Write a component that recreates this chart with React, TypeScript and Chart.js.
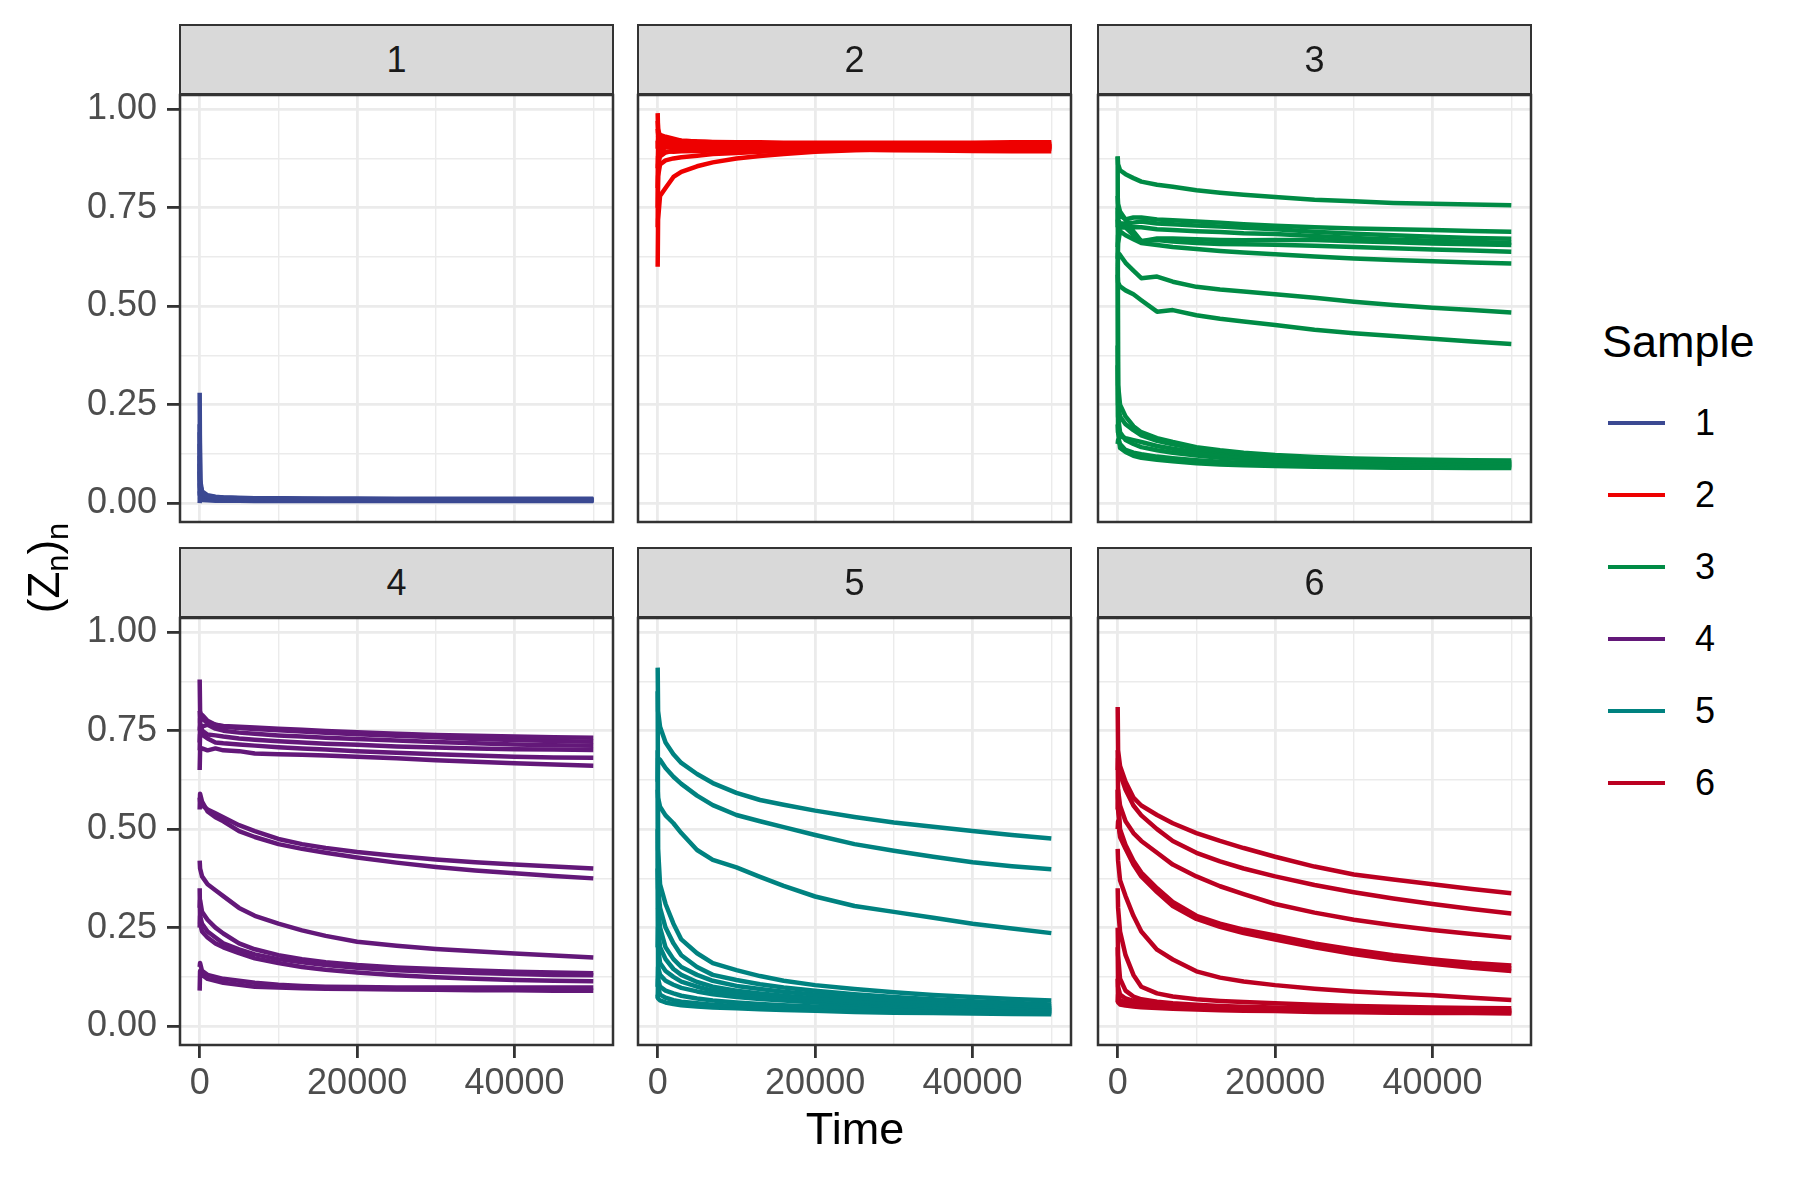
import React, { useEffect, useRef } from 'react';
import { Chart, registerables } from 'chart.js';
Chart.register(...registerables);

const FONT = "'Liberation Sans', Arial, Helvetica, sans-serif";

const TIMES = [0, 50, 300, 1000, 2000, 3000, 5000, 7000, 10000, 13000, 16000, 20000, 25000, 30000, 35000, 40000, 45000, 50000];
const SAMPLES = ['1', '2', '3', '4', '5', '6'];
const COLORS = ['#3B4992', '#EE0000', '#008B45', '#631879', '#008280', '#BB0021'];

const X_TICKS = [0, 10000, 20000, 30000, 40000, 50000];
const X_MAJOR = [0, 20000, 40000];
const X_LABELS = ['0', '20000', '40000'];
const Y_TICKS = [0, 0.125, 0.25, 0.375, 0.5, 0.625, 0.75, 0.875, 1];
const Y_MAJOR = [0, 0.25, 0.5, 0.75, 1];
const Y_LABELS = ['0.00', '0.25', '0.50', '0.75', '1.00'];

const sample1 = [
  [0.28, 0.05, 0.025, 0.018, 0.015, 0.014, 0.013, 0.012, 0.011, 0.011, 0.010, 0.010, 0.010, 0.009, 0.009, 0.009, 0.009, 0.009],
  [0.00, 0.03, 0.020, 0.015, 0.013, 0.012, 0.011, 0.011, 0.010, 0.010, 0.009, 0.009, 0.009, 0.008, 0.008, 0.008, 0.008, 0.008],
  [0.15, 0.04, 0.020, 0.014, 0.012, 0.011, 0.010, 0.010, 0.009, 0.009, 0.009, 0.008, 0.008, 0.008, 0.008, 0.008, 0.007, 0.007],
  [0.10, 0.02, 0.012, 0.010, 0.009, 0.008, 0.008, 0.007, 0.007, 0.007, 0.007, 0.006, 0.006, 0.006, 0.006, 0.006, 0.006, 0.006],
  [0.20, 0.06, 0.030, 0.020, 0.016, 0.014, 0.013, 0.012, 0.012, 0.011, 0.011, 0.011, 0.010, 0.010, 0.010, 0.010, 0.010, 0.010],
  [0.05, 0.01, 0.008, 0.007, 0.006, 0.006, 0.006, 0.005, 0.005, 0.005, 0.005, 0.005, 0.005, 0.005, 0.005, 0.005, 0.005, 0.005],
  [0.08, 0.03, 0.018, 0.013, 0.012, 0.011, 0.011, 0.010, 0.010, 0.010, 0.010, 0.010, 0.009, 0.009, 0.009, 0.009, 0.009, 0.009],
  [0.12, 0.02, 0.015, 0.012, 0.011, 0.010, 0.009, 0.009, 0.008, 0.008, 0.008, 0.008, 0.007, 0.007, 0.007, 0.007, 0.007, 0.007],
  [0.03, 0.02, 0.016, 0.014, 0.013, 0.013, 0.012, 0.012, 0.012, 0.011, 0.011, 0.011, 0.011, 0.011, 0.011, 0.011, 0.011, 0.011],
  [0.18, 0.05, 0.022, 0.016, 0.014, 0.012, 0.011, 0.010, 0.009, 0.009, 0.009, 0.009, 0.008, 0.008, 0.008, 0.008, 0.008, 0.008],
];

const sample2 = [
  [0.60, 0.72, 0.78, 0.80, 0.828, 0.841, 0.855, 0.865, 0.875, 0.881, 0.886, 0.892, 0.896, 0.899, 0.901, 0.902, 0.903, 0.904],
  [0.99, 0.94, 0.925, 0.92, 0.918, 0.915, 0.913, 0.911, 0.910, 0.909, 0.908, 0.907, 0.907, 0.906, 0.906, 0.905, 0.905, 0.905],
  [0.75, 0.83, 0.86, 0.87, 0.875, 0.878, 0.882, 0.886, 0.889, 0.892, 0.894, 0.896, 0.898, 0.899, 0.900, 0.900, 0.901, 0.901],
  [0.90, 0.93, 0.935, 0.93, 0.925, 0.92, 0.918, 0.916, 0.914, 0.913, 0.912, 0.911, 0.911, 0.910, 0.910, 0.910, 0.910, 0.910],
  [0.85, 0.90, 0.91, 0.912, 0.913, 0.912, 0.911, 0.910, 0.909, 0.908, 0.908, 0.907, 0.907, 0.907, 0.906, 0.906, 0.906, 0.906],
  [0.95, 0.93, 0.92, 0.91, 0.905, 0.902, 0.900, 0.899, 0.898, 0.898, 0.898, 0.898, 0.899, 0.899, 0.899, 0.899, 0.899, 0.899],
  [0.80, 0.86, 0.88, 0.89, 0.895, 0.898, 0.900, 0.902, 0.903, 0.904, 0.905, 0.906, 0.907, 0.908, 0.909, 0.910, 0.911, 0.912],
  [0.97, 0.95, 0.93, 0.925, 0.922, 0.92, 0.918, 0.917, 0.916, 0.916, 0.915, 0.915, 0.915, 0.915, 0.915, 0.915, 0.916, 0.916],
  [0.70, 0.88, 0.90, 0.905, 0.904, 0.903, 0.902, 0.901, 0.900, 0.900, 0.899, 0.898, 0.897, 0.896, 0.895, 0.894, 0.893, 0.893],
  [0.92, 0.90, 0.895, 0.893, 0.892, 0.893, 0.894, 0.895, 0.896, 0.897, 0.898, 0.899, 0.900, 0.901, 0.902, 0.903, 0.904, 0.905],
];

const sample3 = [
  [0.88, 0.86, 0.845, 0.835, 0.825, 0.816, 0.808, 0.803, 0.794, 0.788, 0.783, 0.777, 0.770, 0.766, 0.762, 0.760, 0.758, 0.756],
  [0.70, 0.74, 0.73, 0.72, 0.725, 0.725, 0.72, 0.718, 0.715, 0.712, 0.708, 0.704, 0.700, 0.697, 0.695, 0.693, 0.691, 0.689],
  [0.75, 0.72, 0.71, 0.71, 0.712, 0.715, 0.71, 0.708, 0.705, 0.702, 0.699, 0.695, 0.689, 0.684, 0.680, 0.676, 0.673, 0.671],
  [0.65, 0.68, 0.70, 0.70, 0.70, 0.70, 0.695, 0.693, 0.690, 0.688, 0.685, 0.683, 0.678, 0.673, 0.669, 0.666, 0.663, 0.661],
  [0.78, 0.76, 0.74, 0.72, 0.69, 0.665, 0.672, 0.672, 0.670, 0.668, 0.667, 0.668, 0.668, 0.665, 0.662, 0.659, 0.657, 0.655],
  [0.72, 0.71, 0.70, 0.70, 0.68, 0.665, 0.668, 0.664, 0.660, 0.658, 0.657, 0.656, 0.653, 0.650, 0.647, 0.644, 0.641, 0.638],
  [0.62, 0.66, 0.69, 0.68, 0.67, 0.66, 0.655, 0.650, 0.645, 0.640, 0.636, 0.632, 0.626, 0.621, 0.617, 0.614, 0.611, 0.608],
  [0.60, 0.635, 0.63, 0.61, 0.59, 0.571, 0.575, 0.562, 0.549, 0.542, 0.537, 0.530, 0.521, 0.511, 0.503, 0.496, 0.490, 0.484],
  [0.58, 0.56, 0.55, 0.54, 0.53, 0.515, 0.486, 0.49, 0.477, 0.468, 0.461, 0.452, 0.440, 0.431, 0.424, 0.417, 0.410, 0.404],
  [0.88, 0.30, 0.25, 0.22, 0.195, 0.18, 0.165, 0.155, 0.142, 0.134, 0.128, 0.122, 0.117, 0.113, 0.111, 0.110, 0.109, 0.108],
  [0.40, 0.25, 0.22, 0.20, 0.185, 0.172, 0.158, 0.149, 0.138, 0.130, 0.124, 0.118, 0.113, 0.110, 0.108, 0.106, 0.105, 0.104],
  [0.20, 0.18, 0.17, 0.165, 0.16, 0.155, 0.145, 0.138, 0.129, 0.122, 0.117, 0.112, 0.108, 0.105, 0.103, 0.102, 0.101, 0.100],
  [0.60, 0.22, 0.18, 0.16, 0.15, 0.142, 0.134, 0.128, 0.121, 0.115, 0.111, 0.107, 0.104, 0.101, 0.099, 0.098, 0.097, 0.097],
  [0.15, 0.16, 0.15, 0.135, 0.128, 0.124, 0.118, 0.114, 0.109, 0.105, 0.102, 0.099, 0.097, 0.095, 0.094, 0.093, 0.093, 0.093],
  [0.35, 0.18, 0.14, 0.13, 0.12, 0.115, 0.11, 0.106, 0.101, 0.098, 0.096, 0.094, 0.092, 0.091, 0.090, 0.090, 0.089, 0.089],
];

const sample4 = [
  [0.88, 0.80, 0.78, 0.77, 0.765, 0.762, 0.76, 0.758, 0.755, 0.752, 0.749, 0.746, 0.742, 0.739, 0.737, 0.735, 0.733, 0.732],
  [0.75, 0.78, 0.79, 0.775, 0.765, 0.76, 0.757, 0.754, 0.751, 0.748, 0.745, 0.741, 0.737, 0.733, 0.729, 0.726, 0.724, 0.722],
  [0.70, 0.74, 0.76, 0.765, 0.755, 0.75, 0.745, 0.742, 0.738, 0.735, 0.732, 0.729, 0.725, 0.721, 0.718, 0.715, 0.713, 0.712],
  [0.80, 0.77, 0.75, 0.74, 0.738, 0.735, 0.73, 0.727, 0.723, 0.72, 0.717, 0.714, 0.71, 0.707, 0.705, 0.703, 0.702, 0.701],
  [0.72, 0.76, 0.74, 0.73, 0.72, 0.718, 0.715, 0.712, 0.708, 0.705, 0.702, 0.698, 0.694, 0.69, 0.687, 0.684, 0.682, 0.681],
  [0.65, 0.70, 0.705, 0.70, 0.705, 0.70, 0.698, 0.692, 0.69, 0.689, 0.687, 0.684, 0.68, 0.675, 0.671, 0.667, 0.664, 0.661],
  [0.58, 0.57, 0.56, 0.55, 0.54, 0.53, 0.51, 0.495, 0.475, 0.462, 0.452, 0.442, 0.432, 0.423, 0.416, 0.41, 0.405, 0.40],
  [0.55, 0.59, 0.57, 0.545, 0.53, 0.52, 0.495, 0.48, 0.462, 0.45, 0.44, 0.428, 0.415, 0.404, 0.395, 0.388, 0.381, 0.375],
  [0.42, 0.40, 0.38, 0.36, 0.345, 0.33, 0.30, 0.28, 0.26, 0.243, 0.229, 0.214, 0.204, 0.196, 0.19, 0.184, 0.179, 0.174],
  [0.30, 0.32, 0.29, 0.27, 0.25, 0.235, 0.21, 0.195, 0.18, 0.17, 0.162, 0.155, 0.149, 0.145, 0.141, 0.138, 0.136, 0.134],
  [0.25, 0.28, 0.26, 0.24, 0.225, 0.21, 0.195, 0.182, 0.17, 0.162, 0.155, 0.148, 0.142, 0.138, 0.135, 0.132, 0.130, 0.129],
  [0.35, 0.26, 0.24, 0.225, 0.21, 0.20, 0.185, 0.172, 0.16, 0.15, 0.143, 0.136, 0.129, 0.124, 0.12, 0.117, 0.115, 0.114],
  [0.15, 0.16, 0.14, 0.13, 0.125, 0.12, 0.115, 0.11, 0.105, 0.102, 0.10, 0.099, 0.098, 0.098, 0.098, 0.098, 0.098, 0.098],
  [0.09, 0.14, 0.13, 0.12, 0.115, 0.11, 0.105, 0.10, 0.098, 0.096, 0.095, 0.094, 0.093, 0.092, 0.091, 0.091, 0.09, 0.09],
];

const sample5 = [
  [0.91, 0.80, 0.76, 0.72, 0.69, 0.668, 0.64, 0.617, 0.592, 0.574, 0.562, 0.547, 0.531, 0.517, 0.506, 0.495, 0.485, 0.476],
  [0.62, 0.68, 0.676, 0.655, 0.633, 0.615, 0.585, 0.561, 0.536, 0.52, 0.505, 0.485, 0.462, 0.445, 0.43, 0.416, 0.406, 0.398],
  [0.60, 0.58, 0.557, 0.535, 0.515, 0.49, 0.447, 0.422, 0.403, 0.379, 0.356, 0.329, 0.305, 0.29, 0.275, 0.26, 0.248, 0.236],
  [0.85, 0.45, 0.36, 0.31, 0.26, 0.22, 0.185, 0.16, 0.142, 0.127, 0.115, 0.104, 0.094, 0.086, 0.079, 0.074, 0.069, 0.065],
  [0.40, 0.35, 0.30, 0.25, 0.21, 0.18, 0.15, 0.13, 0.117, 0.106, 0.098, 0.09, 0.081, 0.074, 0.068, 0.063, 0.059, 0.055],
  [0.30, 0.30, 0.25, 0.20, 0.17, 0.15, 0.13, 0.115, 0.102, 0.094, 0.087, 0.08, 0.072, 0.066, 0.061, 0.057, 0.053, 0.05],
  [0.20, 0.25, 0.20, 0.17, 0.145, 0.13, 0.112, 0.10, 0.09, 0.083, 0.077, 0.071, 0.064, 0.059, 0.055, 0.051, 0.048, 0.045],
  [0.50, 0.20, 0.16, 0.14, 0.125, 0.113, 0.10, 0.09, 0.082, 0.076, 0.071, 0.066, 0.06, 0.055, 0.051, 0.048, 0.045, 0.042],
  [0.10, 0.15, 0.13, 0.115, 0.105, 0.097, 0.088, 0.081, 0.074, 0.069, 0.065, 0.06, 0.055, 0.051, 0.048, 0.045, 0.042, 0.04],
  [0.07, 0.12, 0.10, 0.09, 0.083, 0.077, 0.07, 0.065, 0.06, 0.056, 0.053, 0.05, 0.047, 0.044, 0.042, 0.04, 0.038, 0.037],
  [0.70, 0.10, 0.08, 0.072, 0.066, 0.062, 0.058, 0.054, 0.051, 0.048, 0.046, 0.044, 0.041, 0.039, 0.037, 0.036, 0.035, 0.034],
  [0.08, 0.07, 0.065, 0.06, 0.056, 0.053, 0.05, 0.047, 0.045, 0.043, 0.041, 0.039, 0.036, 0.034, 0.033, 0.032, 0.031, 0.03],
];

const sample6 = [
  [0.81, 0.70, 0.66, 0.62, 0.58, 0.56, 0.536, 0.515, 0.49, 0.47, 0.452, 0.43, 0.405, 0.385, 0.372, 0.36, 0.348, 0.337],
  [0.65, 0.68, 0.64, 0.60, 0.56, 0.535, 0.50, 0.47, 0.44, 0.418, 0.40, 0.38, 0.358, 0.34, 0.324, 0.31, 0.297, 0.286],
  [0.55, 0.60, 0.56, 0.52, 0.49, 0.47, 0.44, 0.41, 0.38, 0.355, 0.335, 0.31, 0.288, 0.27, 0.256, 0.244, 0.234, 0.224],
  [0.70, 0.58, 0.50, 0.46, 0.42, 0.39, 0.35, 0.315, 0.28, 0.26, 0.245, 0.23, 0.21, 0.194, 0.18, 0.169, 0.16, 0.154],
  [0.60, 0.55, 0.49, 0.455, 0.415, 0.385, 0.345, 0.31, 0.276, 0.256, 0.24, 0.225, 0.205, 0.188, 0.174, 0.163, 0.154, 0.146],
  [0.50, 0.52, 0.48, 0.45, 0.41, 0.38, 0.34, 0.305, 0.272, 0.252, 0.236, 0.22, 0.20, 0.183, 0.169, 0.158, 0.148, 0.14],
  [0.45, 0.42, 0.37, 0.33, 0.28, 0.24, 0.194, 0.169, 0.139, 0.123, 0.113, 0.104, 0.095, 0.088, 0.083, 0.078, 0.072, 0.066],
  [0.35, 0.30, 0.24, 0.18, 0.13, 0.10, 0.083, 0.075, 0.068, 0.064, 0.061, 0.058, 0.054, 0.051, 0.049, 0.047, 0.046, 0.045],
  [0.25, 0.18, 0.12, 0.09, 0.075, 0.068, 0.062, 0.058, 0.054, 0.051, 0.049, 0.047, 0.045, 0.043, 0.042, 0.041, 0.04, 0.04],
  [0.20, 0.10, 0.08, 0.07, 0.064, 0.06, 0.056, 0.053, 0.05, 0.048, 0.046, 0.044, 0.042, 0.04, 0.039, 0.038, 0.037, 0.037],
  [0.06, 0.08, 0.065, 0.06, 0.057, 0.054, 0.05, 0.048, 0.046, 0.044, 0.042, 0.04, 0.038, 0.037, 0.036, 0.035, 0.034, 0.034],
  [0.12, 0.06, 0.055, 0.052, 0.05, 0.048, 0.046, 0.044, 0.042, 0.04, 0.039, 0.038, 0.036, 0.035, 0.034, 0.033, 0.033, 0.032],
];

const SERIES = [sample1, sample2, sample3, sample4, sample5, sample6];

// layout (page pixels)
const COL_X = [180, 638, 1098];
const ROW_Y = [95, 618];
const PW = 433;
const PH = 427;
const STRIP_H = 71;

const borderPlugin = {
  id: 'panelBorder',
  afterDraw(chart: any) {
    const { ctx, chartArea: a } = chart;
    ctx.save();
    ctx.strokeStyle = '#333333';
    ctx.lineWidth = 2.5;
    ctx.strokeRect(a.left, a.top, a.right - a.left, a.bottom - a.top);
    ctx.restore();
  },
};

function Panel({ idx }: { idx: number }) {
  const ref = useRef<HTMLCanvasElement | null>(null);
  const r = Math.floor(idx / 3);
  const c = idx % 3;
  const padL = c === 0 ? 180 : 6;
  const padB = r === 1 ? 100 : 6;
  const padT = 6;
  const padR = 6;
  const left = COL_X[c] - padL;
  const top = ROW_Y[r] - padT;
  const w = padL + PW + padR;
  const h = padT + PH + padB;
  const showX = r === 1;
  const showY = c === 0;

  useEffect(() => {
    if (!ref.current) return;
    const chart = new Chart(ref.current, {
      type: 'line',
      data: {
        datasets: SERIES[idx].map((vals) => ({
          data: vals.map((v, i) => ({ x: TIMES[i], y: v })),
          borderColor: COLORS[idx],
          backgroundColor: COLORS[idx],
          borderWidth: 4.5,
          pointRadius: 0,
          fill: false,
          tension: 0,
          borderJoinStyle: 'round',
        })),
      },
      options: {
        animation: false,
        responsive: false,
        events: [],
        layout: { padding: { left: 0, right: padR, top: padT, bottom: 0 } },
        plugins: { legend: { display: false }, tooltip: { enabled: false } },
        scales: {
          x: {
            type: 'linear',
            position: 'bottom',
            min: -2500,
            max: 52500,
            afterBuildTicks: (s: any) => {
              s.ticks = X_TICKS.map((v) => ({ value: v }));
            },
            afterFit: (s: any) => {
              s.height = padB;
              s.paddingLeft = 0;
              s.paddingRight = 0;
              s.paddingTop = 0;
              s.paddingBottom = 0;
            },
            ticks: {
              display: showX,
              autoSkip: false,
              maxRotation: 0,
              padding: 4,
              color: '#4D4D4D',
              font: { family: FONT, size: 36 },
              callback: (v: any) => {
                const i = X_MAJOR.indexOf(Number(v));
                return i >= 0 ? X_LABELS[i] : '';
              },
            },
            grid: {
              color: '#EBEBEB',
              lineWidth: (ctx: any) => (X_MAJOR.includes(ctx.tick?.value) ? 2.8 : 1.4),
              drawTicks: showX,
              tickLength: 13,
              tickWidth: 2.8,
              tickColor: (ctx: any) => (X_MAJOR.includes(ctx.tick?.value) ? '#333333' : 'rgba(0,0,0,0)'),
            },
            border: { display: false },
          },
          y: {
            type: 'linear',
            position: 'left',
            min: -0.048,
            max: 1.036,
            afterBuildTicks: (s: any) => {
              s.ticks = Y_TICKS.map((v) => ({ value: v }));
            },
            afterFit: (s: any) => {
              s.width = padL;
              s.paddingLeft = 0;
              s.paddingRight = 0;
              s.paddingTop = 0;
              s.paddingBottom = 0;
            },
            ticks: {
              display: showY,
              autoSkip: false,
              padding: 10,
              color: '#4D4D4D',
              font: { family: FONT, size: 36 },
              callback: (v: any) => {
                const i = Y_MAJOR.indexOf(Number(v));
                return i >= 0 ? Y_LABELS[i] : '';
              },
            },
            grid: {
              color: '#EBEBEB',
              lineWidth: (ctx: any) => (Y_MAJOR.includes(ctx.tick?.value) ? 2.8 : 1.4),
              drawTicks: showY,
              tickLength: 13,
              tickWidth: 2.8,
              tickColor: (ctx: any) => (Y_MAJOR.includes(ctx.tick?.value) ? '#333333' : 'rgba(0,0,0,0)'),
            },
            border: { display: false },
          },
        },
      },
      plugins: [borderPlugin],
    } as any);
    return () => chart.destroy();
  }, [idx]);

  return (
    <canvas
      ref={ref}
      width={w}
      height={h}
      style={{ position: 'absolute', left, top, width: w, height: h }}
    />
  );
}

function Strip({ idx }: { idx: number }) {
  const r = Math.floor(idx / 3);
  const c = idx % 3;
  return (
    <div
      style={{
        position: 'absolute',
        left: COL_X[c] - 1.25,
        top: ROW_Y[r] - STRIP_H,
        width: PW + 2.5,
        height: STRIP_H,
        boxSizing: 'border-box',
        border: '2.5px solid #333333',
        background: '#D9D9D9',
        color: '#1A1A1A',
        fontSize: 36,
        fontFamily: FONT,
        display: 'flex',
        alignItems: 'center',
        justifyContent: 'center',
      }}
    >
      {SAMPLES[idx]}
    </div>
  );
}

export default function App() {
  const panels = [0, 1, 2, 3, 4, 5];
  return (
    <div
      style={{
        position: 'fixed',
        left: 0,
        top: 0,
        width: 1800,
        height: 1180,
        background: '#FFFFFF',
        fontFamily: FONT,
        overflow: 'hidden',
      }}
    >
      {panels.map((i) => (
        <Panel key={'p' + i} idx={i} />
      ))}
      {panels.map((i) => (
        <Strip key={'s' + i} idx={i} />
      ))}
      {/* y-axis title */}
      <div
        style={{
          position: 'absolute',
          left: 44 - 150,
          top: 568 - 30,
          width: 300,
          height: 60,
          lineHeight: '60px',
          textAlign: 'center',
          fontSize: 44,
          color: '#000000',
          transform: 'rotate(-90deg)',
          transformOrigin: '50% 50%',
          whiteSpace: 'nowrap',
        }}
      >
        (Z<sub style={{ fontSize: '0.7em', verticalAlign: '-0.3em' }}>n</sub>)
        <sub style={{ fontSize: '0.7em', verticalAlign: '-0.3em' }}>n</sub>
      </div>
      {/* x-axis title */}
      <div
        style={{
          position: 'absolute',
          left: 855 - 200,
          top: 1129 - 30,
          width: 400,
          height: 60,
          lineHeight: '60px',
          textAlign: 'center',
          fontSize: 45,
          color: '#000000',
        }}
      >
        Time
      </div>
      {/* legend */}
      <div
        style={{
          position: 'absolute',
          left: 1602,
          top: 342 - 30,
          height: 60,
          lineHeight: '60px',
          fontSize: 45,
          color: '#000000',
          whiteSpace: 'nowrap',
        }}
      >
        Sample
      </div>
      {SAMPLES.map((s, i) => {
        const cy = 423 + 72 * i;
        return (
          <React.Fragment key={'l' + i}>
            <div
              style={{
                position: 'absolute',
                left: 1608,
                top: cy - 2,
                width: 57,
                height: 4,
                background: COLORS[i],
              }}
            />
            <div
              style={{
                position: 'absolute',
                left: 1695,
                top: cy - 22,
                height: 44,
                lineHeight: '44px',
                fontSize: 36,
                color: '#000000',
              }}
            >
              {s}
            </div>
          </React.Fragment>
        );
      })}
    </div>
  );
}
